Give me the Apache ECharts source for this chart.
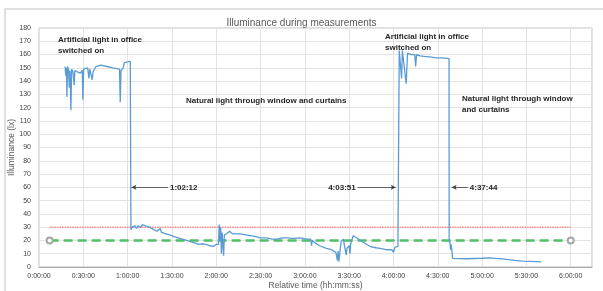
<!DOCTYPE html>
<html>
<head>
<meta charset="utf-8">
<script src="https://cdn.jsdelivr.net/npm/echarts@6/dist/echarts.min.js"></script>
<style>html,body{margin:0;padding:0;background:#fff}#c{width:603px;height:291px}</style>
</head>
<body>
<div id="c"></div>
<script>
// time in minutes since start
var timeMin = [17.6,18.2,18.6,18.9,19.3,20.0,20.5,21.0,21.6,22.1,23.0,23.8,24.3,26,28,29.3,29.7,30.2,31,33,33.8,34.4,35,36,36.6,38.6,42,46,50,54.5,55,55.5,57,57.8,60,61.8,62.2,
62.25,63,64,65,66,67,69,70,72,75,78,80,82,83,86,89,91,94,97,100,103,106,108,110,113,116,118,120,121.5,122,122.5,123,123.5,124,125,125.5,127,129,131,136,141,146,150,154,158,161,165,168,172,177,181,184,184.5,185,187,190,194.6,198,201,202,202.5,203,204.5,206,207,208,208.5,210,210.6,211,212.7,215,219,224,228,231,235,239,240,241,243,243.8,
243.9,245,245.5,246,247,248.6,249.5,252,254.4,255,255.6,258,262,266,269,273,277.6,
277.7,278.3,278.6,279,279.6,280,285,290,294,300,305,309,312,318,322,327,333,340];
var illuminance = [151,144,150,128,151,149,135,148,118,149,147,137,148,147,146,148,126,149,150,150,142,149,148,141,147,151,152,151,150,149,124,148,150,154,154.5,155,155,
28,30,29,31,29,31,30,32,31,30,28,27,29,26,25,24,23,22,21,20,19,18,17,17.5,17,16,15.5,17,17,32,20,30,10,26,8.5,24,25,27,25,25,24,23,22,22,21,21,22,22,21.5,22,21,21,16,20,18,16,14,13,11,5,12,4,19,21,20,9,14,16,10,17,23.5,22,19,15.6,14.5,14,13,13,11,15,15.5,16,
163,162,142,163,163,138,161,160,160,151,160,159,158.5,158,157.5,157.5,157,
20,18,13,17,12,6.5,6.3,6.2,6.4,6.6,6.8,6.5,6.3,5.5,5,4.5,4.2,3.8];
var limitTimes = [7.2, 360];
var redLimit = [30, 30];
var greenLimit = [20, 20];
var arrowFrom = [87.3, 215.8, 290.3];
var arrowTo = [62.6, 241.5, 279.4];
var arrowLevel = [60, 60, 60];
var arrowLabels = ['1:02:12', '4:03:51', '4:37:44'];

function fmt(v){
  var s = Math.round(v*60);
  var h = Math.floor(s/3600), m = Math.floor((s%3600)/60), sec = s%60;
  return h + ':' + (m<10?'0':'') + m + ':' + (sec<10?'0':'') + sec;
}

var mainData = timeMin.map(function(t,i){return [t, illuminance[i]];});
var redData = limitTimes.map(function(t,i){return [t, redLimit[i]];});
var greenData = limitTimes.map(function(t,i){return [t, greenLimit[i]];});
var arrows = arrowFrom.map(function(f,i){
  return [{coord:[f, arrowLevel[i]], label:{formatter: arrowLabels[i]}}, {coord:[arrowTo[i], arrowLevel[i]]}];
});

var chart = echarts.init(document.getElementById('c'));
var font = 'Liberation Sans, Arial, sans-serif';
var annoStyle = {font:'bold 8px Liberation Sans', fill:'#262626', lineHeight:11};
chart.setOption({
  animation:false,
  title:{text:'Illuminance during measurements', left:'center', top:13,
    textStyle:{fontFamily:font, fontSize:10, fontWeight:'normal', color:'#595959'}},
  grid:{left:39, right:11, top:28, bottom:24, show:true, borderColor:'#bfbfbf', borderWidth:1,
    containLabel:false, outerBoundsMode:'none'},
  xAxis:{type:'value', min:0, max:374.4, interval:30,
    axisLine:{show:true, lineStyle:{color:'#a6a6a6'}}, axisTick:{show:false},
    splitLine:{show:true, lineStyle:{color:'#e3e3e3'}},
    axisLabel:{fontFamily:font, fontSize:7, color:'#404040', margin:6,
      formatter:function(v){return v>360.5?'':fmt(v);}}},
  yAxis:{type:'value', min:0, max:180, interval:10,
    axisLine:{show:false}, axisTick:{show:false},
    splitLine:{show:true, lineStyle:{color:'#e3e3e3'}},
    axisLabel:{fontFamily:font, fontSize:7, color:'#404040', margin:8}},
  series:[
    {type:'line', data:redData, showSymbol:false, silent:true,
      lineStyle:{color:'#ff8a8a', width:1.5, type:[1.5,1]}},
    {type:'line', data:greenData, symbol:'emptyCircle', symbolSize:6, showSymbol:true,
      itemStyle:{color:'#a6a6a6', borderColor:'#a6a6a6', borderWidth:1},
      lineStyle:{color:'#4fbf6a', width:2.5, type:[9,5]}},
    {type:'line', data:mainData, showSymbol:false,
      lineStyle:{color:'#5b9bd5', width:1.3}, itemStyle:{color:'#5b9bd5'},
      markLine:{silent:true, symbol:['none','arrow'], symbolSize:[4,5],
        lineStyle:{color:'#404040', width:0.8, type:'solid'},
        label:{show:true, position:'start', distance:2, fontFamily:font, fontSize:8, fontWeight:'bold', color:'#262626'},
        data:arrows}}
  ],
  graphic:[
    {type:'rect', z:100, shape:{x:5, y:9, width:620, height:320}, style:{fill:'none', stroke:'#d6d6d6', lineWidth:1.5}, silent:true},
    {type:'text', z:100, x:12, y:147.5, rotation:Math.PI/2,
      style:{text:'Illuminance (lx)', font:'8.5px Liberation Sans', fill:'#595959', align:'center', verticalAlign:'middle'}},
    {type:'text', z:100, x:315.5, y:286,
      style:{text:'Relative time (hh:mm:ss)', font:'8.5px Liberation Sans', fill:'#595959', align:'center', verticalAlign:'middle'}},
    {type:'text', z:100, left:58, top:34, style:Object.assign({text:'Artificial light in office\nswitched on'}, annoStyle)},
    {type:'text', z:100, left:186, top:95, style:Object.assign({text:'Natural light through window and curtains'}, annoStyle)},
    {type:'text', z:100, left:385, top:31, style:Object.assign({text:'Artificial light in office\nswitched on'}, annoStyle)},
    {type:'text', z:100, left:462, top:93, style:Object.assign({text:'Natural light through window\nand curtains'}, annoStyle)}
  ]
});
</script>
</body>
</html>
